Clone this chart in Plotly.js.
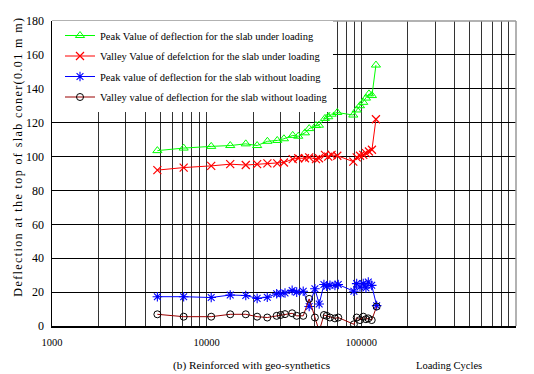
<!DOCTYPE html>
<html>
<head>
<meta charset="utf-8">
<script src="https://cdn.plot.ly/plotly-3.0.1.min.js"></script>
<style>
html,body{margin:0;padding:0;background:#fff;}
#chart{width:534px;height:374px;}
.annotation[data-index="0"] text{letter-spacing:1.4px;}
</style>
</head>
<body>
<div id="chart"></div>
<script>
// Loading cycles for the loaded slab
var cyclesLoaded = [4800, 7100, 10700, 14200, 17900, 21200, 24700, 28600, 31600, 36000, 39100, 43200, 46000, 50900, 53200, 58200, 61100, 64200, 69900, 88700, 93300, 98000, 102900, 107100, 112000, 117100, 124300];
var peakLoaded = [103.5, 105, 106, 106.5, 107.5, 106.5, 109, 109.5, 110.5, 112.5, 112, 114, 116.5, 118.3, 118.5, 122.5, 123.5, 125, 126, 124.5, 127.5, 130, 132, 134.5, 137, 136, 154];
var valleyLoaded = [92, 93.5, 94.5, 95.5, 95, 95.5, 96, 96, 96.5, 98.5, 99, 99, 99.5, 98.5, 99, 101, 100, 101, 100.5, 97, 99.5, 100.5, 101, 102, 103, 104, 122];

// Loading cycles for the slab without loading
var cyclesUnloaded = [4800, 7100, 10700, 14200, 17900, 21200, 24650, 28350, 30100, 32100, 35700, 38200, 42100, 46000, 50100, 53400, 57300, 59700, 62700, 67500, 70900, 89500, 93300, 98000, 102900, 107100, 110900, 116700, 125600];
var peakUnloaded = [17.3, 17.3, 16.8, 18.3, 18, 16.3, 17, 19, 19, 19.5, 21, 20, 20.5, 11.5, 22, 13, 24.5, 23.5, 24, 24, 24.5, 20.5, 25, 23, 25, 22.5, 26, 24, 12];
var valleyUnloaded = [6.9, 5.5, 5.5, 6.9, 6.9, 5.5, 5, 6, 6.5, 7, 7.5, 6, 6, 16, 5, -3, 6.5, 6, 5, 4.5, 5, 1, 5, 3.5, 5.5, 4, 4.5, 3.5, 11.5];

var seriesNames = [
  "Peak Value of deflection for the slab under loading",
  "Valley Value of defelction for the slab under loading",
  "Peak value of deflection for the slab without loading",
  "Valley value of deflection for the slab without loading"
];

// x-axis grid values (decades and intermediate digits)
var decades = [1000, 10000, 100000, 1000000];
var digits = [1, 2, 3, 4, 5, 6, 7, 8, 9];
var gridVals = [];
var gridText = [];
decades.forEach(function (d, i) {
  digits.forEach(function (k) {
    if (i === decades.length - 1 && k > 1) return;
    gridVals.push(d * k);
    gridText.push(k === 1 ? String(d) : "");
  });
});

var serif = "'Liberation Serif', 'Times New Roman', serif";

var traces = [
  {x: cyclesLoaded, y: peakLoaded, name: seriesNames[0], legendgroup: "a", mode: "lines+markers",
   line: {color: "#00ff00", width: 1},
   marker: {symbol: "triangle-up-open", size: 8, color: "#00ff00", line: {width: 1}}},
  {x: cyclesLoaded, y: valleyLoaded, name: seriesNames[1], legendgroup: "b", mode: "lines+markers",
   line: {color: "#ff0000", width: 1},
   marker: {symbol: "x-thin-open", size: 8, color: "#ff0000", line: {width: 1.2}}},
  {x: cyclesUnloaded, y: peakUnloaded, name: seriesNames[2], legendgroup: "c", mode: "lines+markers",
   line: {color: "#0000ff", width: 1},
   marker: {symbol: "asterisk-open", size: 8, color: "#0000ff", line: {width: 1.1}}},
  {x: cyclesUnloaded, y: valleyUnloaded, name: seriesNames[3], legendgroup: "d", mode: "lines+markers",
   line: {color: "#990000", width: 1},
   marker: {symbol: "circle-open", size: 7, color: "#000000", line: {width: 1}}}
];

var layout = {
  width: 534, height: 374,
  margin: {l: 52, r: 18, t: 21, b: 48},
  paper_bgcolor: "#ffffff", plot_bgcolor: "#ffffff",
  font: {family: serif, color: "#000", size: 11},
  showlegend: true,
  legend: {x: 0, y: 1, xanchor: "left", yanchor: "top", bgcolor: "#ffffff",
           borderwidth: 0, font: {family: serif, size: 10.5, color: "#000"},
           traceorder: "grouped", tracegroupgap: 1.5, indentation: 8},
  xaxis: {type: "log", range: [3, 6], tickmode: "array", tickvals: gridVals, ticktext: gridText,
          showgrid: true, gridcolor: "#333333", gridwidth: 1, zeroline: false,
          showline: true, linecolor: "#000", linewidth: 1.5, ticks: "",
          ticklabelstandoff: 6,
          tickfont: {family: serif, size: 10.5, color: "#000"}},
  yaxis: {range: [0, 180], dtick: 20, tick0: 0, showgrid: true, gridcolor: "#000", gridwidth: 1,
          zeroline: false, showline: true, linecolor: "#000", linewidth: 1.5, ticks: "",
          ticklabelstandoff: 4,
          tickfont: {family: serif, size: 12, color: "#000"}},
  shapes: [
    {type: "line", xref: "paper", yref: "paper", x0: 0, x1: 1, y0: 1, y1: 1, line: {color: "#999", width: 1.5}},
    {type: "line", xref: "paper", yref: "paper", x0: 1, x1: 1, y0: 0, y1: 1, line: {color: "#999", width: 1.5}}
  ],
  annotations: [
    {text: "Deflection at the top of slab coner(0.01 m m)", xref: "paper", yref: "paper",
     x: -0.073, y: 0.554, textangle: -90, showarrow: false, xanchor: "center", yanchor: "middle",
     font: {family: serif, size: 12, color: "#000"}},
    {text: "(b) Reinforced with geo-synthetics", xref: "paper", yref: "paper",
     x: 0.429, y: -0.128, showarrow: false, xanchor: "center", yanchor: "middle",
     font: {family: serif, size: 11.3, color: "#000"}},
    {text: "Loading Cycles", xref: "paper", yref: "paper",
     x: 0.856, y: -0.128, showarrow: false, xanchor: "center", yanchor: "middle",
     font: {family: serif, size: 10.5, color: "#000"}}
  ]
};

Plotly.newPlot("chart", traces, layout, {staticPlot: true, displayModeBar: false});
</script>
</body>
</html>
